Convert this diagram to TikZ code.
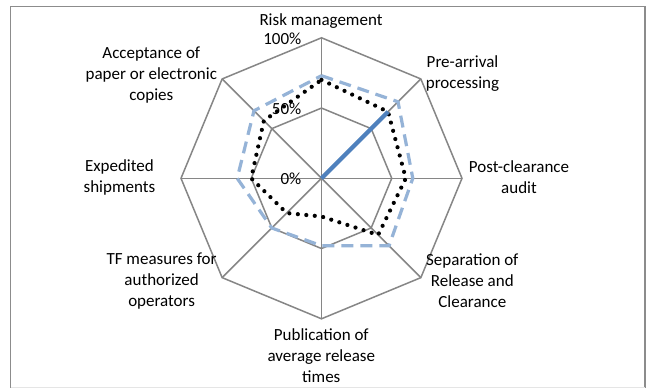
\documentclass[tikz,border=0pt]{standalone}
\usepackage{fontspec}
\setmainfont{Carlito}
\definecolor{gridgray}{HTML}{868686}
\definecolor{framegray}{HTML}{8C8C8C}
\definecolor{dashblue}{HTML}{95B3D7}
\definecolor{solidblue}{HTML}{4F81BD}
\begin{document}
\begin{tikzpicture}[x=1pt,y=1pt,
  gridline/.style={draw=gridgray, line width=1.5pt},
  lbl/.style={font=\fontsize{17}{21}\selectfont, align=center, inner sep=0pt, text=black},
  pct/.style={font=\fontsize{17}{21}\selectfont, inner sep=0pt, anchor=east},
  dotser/.style={draw=black, line width=4.2pt, line cap=round, dash pattern=on 0pt off 8.5pt},
  dashser/.style={draw=dashblue, line width=3.2pt, dash pattern=on 12pt off 7pt},
  solidser/.style={draw=solidblue, line width=4.2pt}]
\useasboundingbox (0,0) rectangle (648,388);
\fill[white] (0,0) rectangle (648,388);
\draw[framegray, line width=1.5pt] (10.7,0) -- (10.7,381.7) -- (645,381.7) -- (645,0);
\draw[black!10, line width=0.8pt] (10.7,1) -- (645,1);
\coordinate (O) at (321.5,209.7);
% grid rings and spokes
\foreach \r in {70.25,140.5}{
  \draw[gridline] ([shift={(O)}]90:\r) -- ([shift={(O)}]45:\r) -- ([shift={(O)}]0:\r) -- ([shift={(O)}]-45:\r) -- ([shift={(O)}]-90:\r) -- ([shift={(O)}]-135:\r) -- ([shift={(O)}]180:\r) -- ([shift={(O)}]135:\r) -- cycle;
}
\foreach \a in {0,45,...,315}{
  \coordinate (v\a) at ([shift={(O)}]\a:140.5);
  \draw[gridline] (O) -- (v\a);
}
% series: dashed light blue
\draw[dashser] ([shift={(O)}]90:102.6) -- ([shift={(O)}]45:108.2) -- ([shift={(O)}]0:91.3) -- ([shift={(O)}]-45:95.5) -- ([shift={(O)}]-90:67.4) -- ([shift={(O)}]-135:70.3) -- ([shift={(O)}]180:84.3) -- ([shift={(O)}]135:95.5) -- cycle;
% series: dotted black
\draw[dotser] ([shift={(O)}]90:98.4) -- ([shift={(O)}]45:94.1) -- ([shift={(O)}]0:84.3) -- ([shift={(O)}]-45:80.1) -- ([shift={(O)}]-90:38.2) -- ([shift={(O)}]-135:49.2) -- ([shift={(O)}]180:70.3) -- ([shift={(O)}]135:81.5) -- cycle;
% series: solid blue
\coordinate (s45) at ([shift={(O)}]45:94.1);
\draw[solidser] (O) -- (s45);
% percent labels
\node[pct] (p0) at (301.5,209.7) {0\%};
\node[pct] (p50) at (301.5,279.6) {50\%};
\node[pct] (p100) at (301.5,349.5) {100\%};
% axis labels
\node[lbl] (l1) at (321,367.3) {Risk management};
\node[lbl] (l2) at (462.5,314) {Pre-arrival\\processing};
\node[lbl] (l3) at (519,211) {Post-clearance\\audit};
\node[lbl] (l4) at (472.3,107.3) {Separation of\\Release and\\Clearance};
\node[lbl] (l5) at (321.3,32.3) {Publication of\\average release\\times};
\node[lbl] (l6) at (161.6,107.3) {TF measures for\\authorized\\operators};
\node[lbl] (l7) at (119.4,211) {Expedited\\shipments};
\node[lbl] (l8) at (151.3,313) {Acceptance of\\paper or electronic\\copies};
\end{tikzpicture}
\end{document}
